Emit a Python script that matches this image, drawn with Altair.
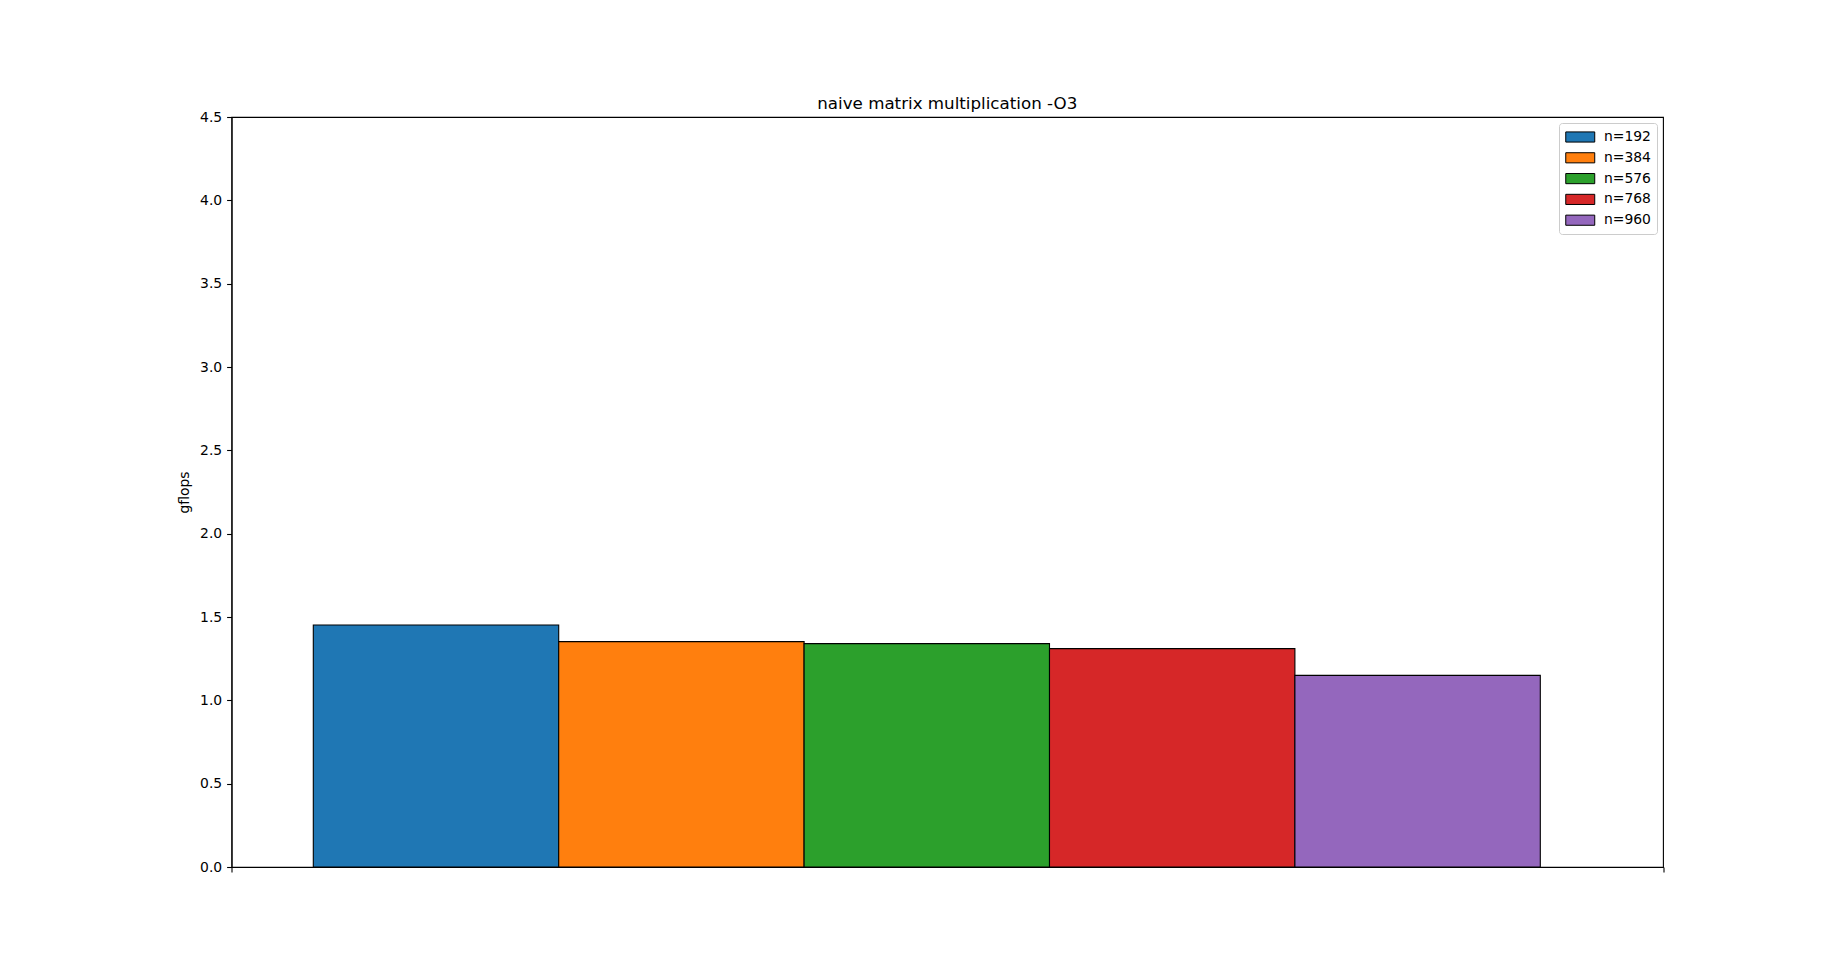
import altair as alt
import pandas as pd

sizes = [192, 384, 576, 768, 960]
labels = ["n=192", "n=384", "n=576", "n=768", "n=960"]
gflops = [1.452, 1.352, 1.340, 1.310, 1.150]
colors = ["#1f77b4", "#ff7f0e", "#2ca02c", "#d62728", "#9467bd"]
y_ticks = [0.0, 0.5, 1.0, 1.5, 2.0, 2.5, 3.0, 3.5, 4.0, 4.5]

df = pd.DataFrame({"label": labels, "n": sizes, "gflops": gflops, "idx": list(range(len(sizes)))})

FONT = "DejaVu Sans"
x_lo, x_hi = -1.0 / 3.0, 5.5

bars = (
    alt.Chart(df)
    .transform_calculate(x0="datum.idx", x1="datum.idx + 1")
    .mark_bar(stroke="black", strokeWidth=1.1)
    .encode(
        x=alt.X("x0:Q", scale=alt.Scale(domain=[x_lo, x_hi], nice=False, zero=False),
                axis=alt.Axis(values=[x_lo, x_hi], labels=False, title=None, ticks=True)),
        x2="x1:Q",
        y=alt.Y("gflops:Q", scale=alt.Scale(domain=[0, 4.5], nice=False),
                axis=alt.Axis(values=y_ticks, format=".1f", title="gflops",
                              titleFontSize=13.9, titleFontWeight="normal", titlePadding=8,
                              titleFont=FONT, titleColor="black")),
        y2=alt.datum(0),
        color=alt.Color("label:N", scale=alt.Scale(domain=labels, range=colors),
                        legend=alt.Legend(title=None, orient="none", legendX=1327.5, legendY=6.0,
                                          symbolType="M-1,-0.7H3V0.7H-1Z", symbolSize=210,
                                          symbolStrokeColor="black", symbolStrokeWidth=1,
                                          symbolOpacity=1,
                                          labelFont=FONT, labelFontSize=13.9, labelColor="black",
                                          labelOffset=23, rowPadding=4.8, padding=6,
                                          strokeColor="#cccccc", fillColor="rgba(255,255,255,0.8)",
                                          cornerRadius=3)),
    )
)

chart = (
    bars.properties(
        width=1431.5,
        height=750,
        title=alt.TitleParams("naive matrix multiplication -O3", font=FONT, fontSize=16.7,
                              fontWeight="normal", color="black", anchor="middle",
                              frame="group", offset=2, dy=5),
        autosize=alt.AutoSizeParams(type="none"),
        padding={"left": 231.5, "top": 117, "right": 185, "bottom": 107},
    )
    .configure_view(stroke="black", strokeWidth=1.1)
    .configure_axis(domainColor="black", tickColor="black", labelColor="black", labelFont=FONT,
                    labelFontSize=13.9, tickSize=4.9, labelPadding=4.9, grid=False,
                    tickWidth=1.1, domainWidth=1.1)
)

chart.save("out.html", embed_options={"renderer": "svg", "actions": False})
